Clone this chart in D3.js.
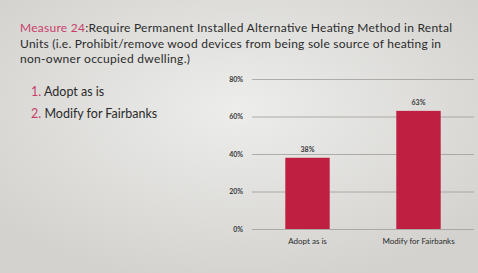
<!DOCTYPE html>
<html>
<head>
<meta charset="utf-8">
<script src="https://cdn.jsdelivr.net/npm/d3@7"></script>
<style>
  html, body { margin: 0; padding: 0; background: #d6d5d2; }
  svg { display: block; }
</style>
</head>
<body>
<svg width="478" height="273"></svg>
<script>
(function() {

  // chart data
  var categories = ['Adopt as is', 'Modify for Fairbanks'];
  var values = [38, 63];
  var yTicks = [0, 20, 40, 60, 80];

  var titleLines = [
    ['Measure 24', ':Require Permanent Installed Alternative Heating Method in Rental'],
    ['', 'Units (i.e. Prohibit/remove wood devices from being sole source of heating in'],
    ['', 'non-owner occupied dwelling.)']
  ];
  var titleWidths = [432, 421, 170];
  var options = ['Adopt as is', 'Modify for Fairbanks'];

  var width = 478,
      height = 273,
      font = 'Lato, "Open Sans", sans-serif',
      accent = '#c8406a',
      barColor = '#bf1f40';

  var svg = d3.select('svg');

  // slide background, lighter towards the middle
  var defs = svg.append('defs');
  var grad = defs.append('radialGradient')
      .attr('id', 'bg')
      .attr('cx', '50%').attr('cy', '40%').attr('r', '65%');
  grad.append('stop').attr('offset', '0%').attr('stop-color', '#ededeb');
  grad.append('stop').attr('offset', '100%').attr('stop-color', '#d3d2cf');

  svg.append('rect')
      .attr('width', width)
      .attr('height', height)
      .attr('fill', 'url(#bg)');

  // title
  var title = svg.append('g').attr('font-family', font).attr('font-size', 12);
  titleLines.forEach(function(line, i) {
    var t = title.append('text')
        .attr('x', 20)
        .attr('y', 32 + i * 15.5)
        .attr('textLength', titleWidths[i])
        .attr('lengthAdjust', 'spacing')
        .attr('fill', '#2b2b2b');
    if (line[0]) t.append('tspan').attr('fill', accent).text(line[0]);
    t.append('tspan').text(line[1]);
  });

  // numbered list
  var list = svg.append('g').attr('font-family', font).attr('font-size', 12.5);
  options.forEach(function(d, i) {
    var t = list.append('text')
        .attr('x', 31)
        .attr('y', 96 + i * 21.5)
        .attr('fill', '#2b2b2b');
    t.append('tspan').attr('fill', accent).text((i + 1) + '. ');
    t.append('tspan').text(d);
  });

  // chart
  var xScale = d3.scaleBand()
      .domain(categories)
      .range([252, 474])
      .paddingInner(0.6)
      .paddingOuter(0.3);

  var yScale = d3.scaleLinear()
      .domain([0, 80])
      .range([229, 79]);

  var chart = svg.append('g').attr('font-family', font);

  chart.append('g')
      .attr('transform', 'translate(252,0)')
      .call(d3.axisLeft(yScale)
        .tickValues(yTicks)
        .tickSize(-222)
        .tickPadding(9)
        .tickFormat(function(d) { return d + '%'; }))
      .call(function(g) {
        g.select('.domain').remove();
        g.selectAll('.tick line').attr('stroke', '#9e9d9a').attr('stroke-width', 0.8);
        g.selectAll('.tick text')
          .attr('font-family', font)
          .attr('font-size', 7)
          .attr('font-weight', 'bold')
          .attr('fill', '#3a3a3a');
      });

  chart.selectAll('.bar')
      .data(values)
    .enter().append('rect')
      .attr('class', 'bar')
      .attr('x', function(d, i) { return xScale(categories[i]); })
      .attr('width', xScale.bandwidth())
      .attr('y', function(d) { return yScale(d); })
      .attr('height', function(d) { return yScale(0) - yScale(d); })
      .attr('fill', barColor);

  chart.selectAll('.value')
      .data(values)
    .enter().append('text')
      .attr('class', 'value')
      .attr('x', function(d, i) { return xScale(categories[i]) + xScale.bandwidth() / 2; })
      .attr('y', function(d) { return yScale(d) - 6; })
      .attr('text-anchor', 'middle')
      .attr('font-size', 7)
      .attr('font-weight', 'bold')
      .attr('fill', '#3a3a3a')
      .text(function(d) { return d + '%'; });

  chart.append('g')
      .attr('transform', 'translate(0,229)')
      .call(d3.axisBottom(xScale).tickSize(0).tickPadding(9))
      .call(function(g) {
        g.select('.domain').remove();
        g.selectAll('.tick text')
          .attr('font-family', font)
          .attr('font-size', 8)
          .attr('fill', '#2b2b2b');
      });

})()
</script>
</body>
</html>
